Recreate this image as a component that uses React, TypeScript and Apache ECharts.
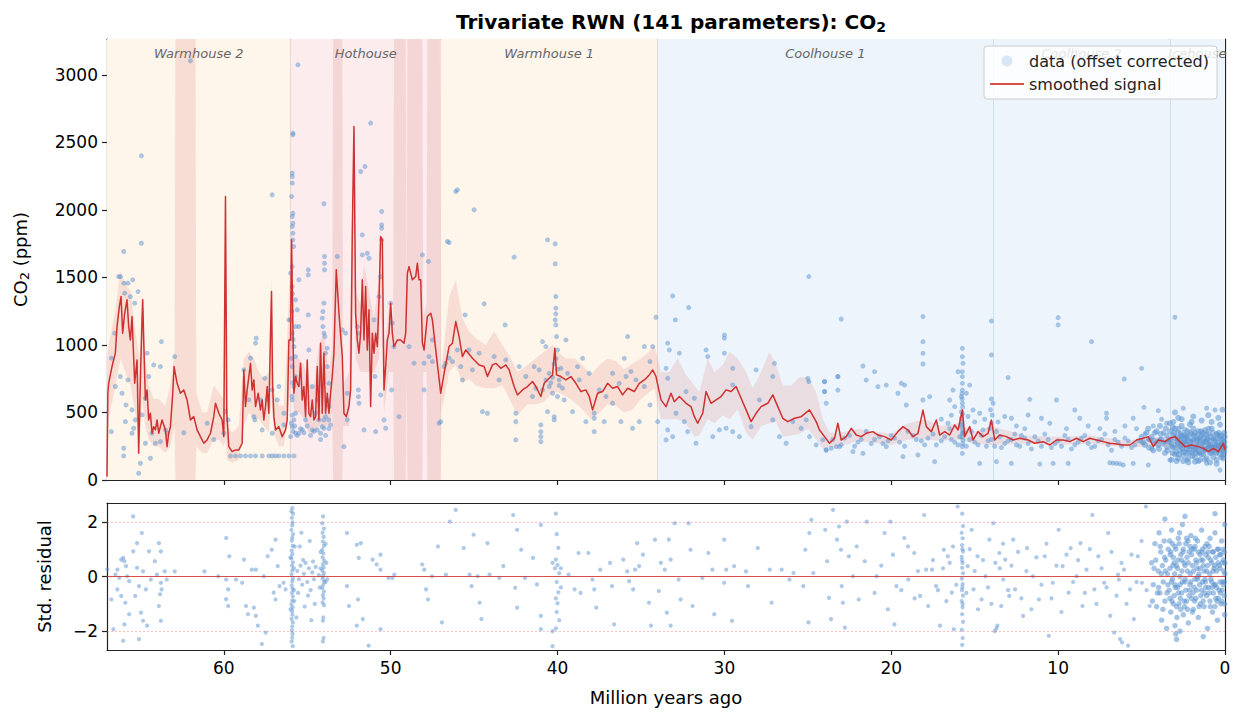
import React, { useEffect, useRef } from "react";
import * as echarts from "echarts";

const X_MAX = 67;
const Y_MAX = 3265;
const R_LIM = 2.69;

const xTicks = [0, 10, 20, 30, 40, 50, 60];
const yTicks = [0, 500, 1000, 1500, 2000, 2500, 3000];
const rTicks = [-2, 0, 2];

const regions = [
  { name: "Warmhouse 2", from: 67, to: 56, color: "#fef5eb" },
  { name: "Hothouse", from: 56, to: 47, color: "#fcecee" },
  { name: "Warmhouse 1", from: 47, to: 34, color: "#fef5eb" },
  { name: "Coolhouse 1", from: 34, to: 13.9, color: "#edf4fc" },
  { name: "Coolhouse 2", from: 13.9, to: 3.3, color: "#edf4fc" },
  { name: "Icehouse", from: 3.3, to: 0, color: "#edf4fc" },
];

// smoothed signal [age (Ma), CO2 ppm]
const smoothed: number[][] = [
  [67.0,25],[66.95,642],[66.9,716],[66.7,840],[66.5,939],[66.4,1136],[66.26,1284],[66.16,1358],[66.06,1087],[65.94,1235],[65.8,1334],[65.7,1136],[65.6,1037],[65.5,1210],[65.34,716],[65.2,889],[65.1,198],[65.0,741],[64.9,1185],[64.86,1334],[64.8,1037],[64.7,593],[64.6,667],[64.5,445],[64.4,494],[64.3,346],[64.2,395],[64.1,371],[64.0,445],[63.9,346],[63.7,445],[63.5,371],[63.4,247],[63.3,346],[63.2,395],[63.06,642],[62.98,840],[62.8,716],[62.6,642],[62.4,667],[62.2,593],[62.0,445],[61.8,469],[61.6,371],[61.4,321],[61.2,272],[61.0,297],[60.8,346],[60.6,469],[60.5,568],[60.3,494],[60.1,445],[60.0,321],[59.9,2099],[59.82,494],[59.7,247],[59.5,210],[59.3,223],[59.1,223],[58.9,272],[58.8,815],[58.7,544],[58.6,667],[58.5,766],[58.4,864],[58.3,667],[58.2,741],[58.1,544],[57.94,642],[57.8,519],[57.7,593],[57.6,445],[57.5,544],[57.4,692],[57.3,494],[57.2,1087],[57.14,1395],[57.08,716],[57.0,469],[56.9,371],[56.7,395],[56.5,321],[56.3,371],[56.2,445],[56.1,1037],[56.0,1037],[55.94,1778],[55.86,1136],[55.8,642],[55.7,766],[55.6,716],[55.5,692],[55.4,864],[55.3,593],[55.2,692],[55.1,469],[55.0,889],[54.9,494],[54.8,469],[54.7,593],[54.6,445],[54.5,469],[54.4,840],[54.3,445],[54.2,1013],[54.1,494],[54.0,939],[53.9,494],[53.8,642],[53.7,494],[53.6,642],[53.5,766],[53.4,939],[53.26,1556],[53.1,1235],[52.9,914],[52.8,494],[52.66,469],[52.5,544],[52.4,667],[52.3,1827],[52.2,2617],[52.1,1235],[52.0,1037],[51.9,939],[51.8,1087],[51.7,1482],[51.6,1037],[51.5,1432],[51.4,963],[51.3,1260],[51.2,544],[51.1,1087],[51.0,939],[50.9,1087],[50.8,988],[50.7,1334],[50.6,1803],[50.5,1778],[50.4,667],[50.3,840],[50.2,1037],[50.1,1087],[50.0,1309],[49.9,1087],[49.8,988],[49.6,1037],[49.4,1037],[49.2,1013],[49.1,1087],[49.0,1531],[48.9,1580],[48.7,1482],[48.5,1506],[48.4,1605],[48.3,1482],[48.2,1482],[48.1,1013],[48.0,963],[47.8,1210],[47.6,1235],[47.5,1185],[47.3,963],[47.0,642],
  [46.8,790],[46.5,988],[46.3,1013],[46.1,1173],[45.9,1062],[45.7,914],[45.5,963],[45.1,901],[44.7,852],[44.4,840],[44.2,766],[43.9,852],[43.7,864],[43.4,827],[43.1,852],[42.9,815],[42.6,692],[42.4,630],[42.1,667],[41.8,692],[41.5,729],[41.3,692],[41.0,618],[40.8,716],[40.5,753],[40.3,778],[40.16,976],[40.06,778],[39.8,766],[39.5,741],[39.2,766],[38.9,716],[38.6,655],[38.3,667],[38.1,618],[37.9,519],[37.6,642],[37.3,655],[37.0,716],[36.7,679],[36.4,692],[36.1,630],[35.8,679],[35.4,655],[35.1,716],[34.8,741],[34.5,778],[34.3,815],[34.1,766],[33.8,593],[33.5,543],[33.2,642],[33.0,580],[32.7,618],[32.3,568],[32.0,543],[31.8,469],[31.6,420],[31.3,494],[31.1,655],[30.8,568],[30.5,593],[30.2,618],[29.9,667],[29.6,655],[29.3,692],[29.0,605],[28.7,519],[28.4,432],[28.1,494],[27.8,543],[27.4,568],[27.1,630],[26.8,543],[26.5,457],[26.2,432],[25.8,457],[25.4,469],[24.9,519],[24.5,432],
  [24.3,370],[24.0,321],[23.7,272],[23.4,309],[23.2,420],[23.0,296],[22.7,321],[22.4,383],[22.1,333],[21.8,321],[21.5,346],[21.1,358],[20.8,333],[20.4,321],[20.0,296],[19.6,358],[19.3,395],[19.0,370],[18.7,321],[18.4,346],[18.1,518],[17.9,395],[17.6,358],[17.3,444],[17.1,333],[16.8,358],[16.5,333],[16.2,407],[16.0,370],[15.74,518],[15.6,321],[15.3,395],[15.1,296],[14.8,358],[14.5,321],[14.2,346],[14.0,444],[13.8,296],[13.5,333],[13.1,321],[12.7,296],[12.3,309],[11.8,296],[11.4,272],[10.9,284],[10.5,259],[10.1,296],[9.7,296],[9.3,284],[8.9,309],[8.5,284],[8.1,309],[7.7,296],[7.3,284],[6.9,272],[6.5,266],[6.1,259],[5.7,259],[5.3,296],[4.9,309],[4.6,321],[4.3,247],[4.0,296],[3.6,284],[3.3,309],[3.0,321],[2.7,284],[2.4,247],[2.0,259],[1.6,247],[1.3,234],[1.0,210],[0.7,234],[0.4,210],[0.1,272],[0.0,222],
];

// uncertainty envelope [age, lower, upper]; upper above the axis means off-scale
const envelope: number[][] = [
  [67.0,0,900],[66.9,450,1000],[66.5,700,1250],[66.2,900,1550],[65.9,800,1450],[65.6,700,1400],[65.3,500,1100],[65.05,300,900],[64.9,600,1400],[64.7,400,900],[64.5,300,700],[64.2,250,600],[63.9,250,600],[63.5,200,550],[63.2,250,700],[62.95,400,950],[62.9,0,3300],[61.7,0,3300],[61.65,250,650],[61.3,200,500],[61.0,200,500],[60.6,300,700],[60.3,300,650],[60.0,250,600],[59.9,300,2200],[59.8,150,400],[59.5,130,350],[59.1,150,400],[58.8,400,900],[58.5,500,950],[58.2,450,900],[57.9,450,800],[57.6,400,750],[57.3,350,800],[57.15,600,1500],[57.0,350,650],[56.7,250,550],[56.4,250,550],[56.15,500,1200],[55.95,800,1900],[55.8,500,900],[55.5,500,900],[55.2,450,850],[54.9,350,700],[54.6,350,700],[54.3,400,1000],[54.0,400,1100],[53.7,400,800],[53.5,500,1000],[53.45,0,3300],[52.9,0,3300],[52.85,400,700],[52.5,400,800],[52.3,1000,2000],[52.2,1500,2700],[52.1,900,1400],[51.8,800,1300],[51.6,800,1600],[51.3,800,1400],[51.0,800,1200],[50.7,900,1500],[50.6,1300,1900],[50.4,500,900],[50.1,800,1300],[49.85,800,1200],[49.8,0,3300],[49.1,0,3300],[49.05,800,1300],[49.0,0,3300],[48.1,0,3300],[48.05,800,1200],[47.85,800,1300],[47.8,0,3300],[47.05,0,3300],[47.0,500,800],
  [46.8,600,1000],[46.5,800,1350],[46.1,850,1480],[45.7,720,1200],[45.3,750,1100],[44.9,700,1050],[44.3,680,1000],[43.8,680,1100],[43.3,700,1000],[42.8,580,900],[42.4,480,800],[41.8,560,850],[41.3,560,900],[40.8,580,950],[40.3,650,1000],[40.0,650,950],[39.5,620,900],[39.0,580,900],[38.5,520,850],[38.0,450,780],[37.5,500,850],[37.0,560,900],[36.5,550,880],[36.0,500,820],[35.5,520,860],[35.0,600,900],[34.5,650,950],[34.2,680,1000],[33.8,450,800],[33.3,450,800],[32.8,450,900],[32.3,420,780],[31.8,320,700],[31.5,330,650],[31.0,450,900],[30.6,420,800],[30.1,480,850],[29.7,450,950],[29.2,520,900],[28.7,350,800],[28.3,300,680],[27.8,400,800],[27.3,420,950],[26.9,430,850],[26.5,320,700],[26.0,330,700],[25.5,340,760],[25.0,380,760],[24.5,300,650],[24.1,230,450],[23.7,240,350],[23.0,250,350],[22.0,290,380],[20.0,260,340],[19.0,300,420],[18.0,300,450],[17.0,290,400],[16.0,300,420],[15.0,270,360],[14.0,260,400],[12.0,270,330],[10.0,260,320],[8.0,270,330],[6.0,240,290],[4.0,250,320],[2.0,230,280],[0.0,190,260],
];

// proxy data (offset corrected) [age, CO2]
const proxyEarly: number[][] = [
  [64.94,2400],[66.0,1692],[66.3,1506],[66.2,1506],[65.98,1457],[65.74,1457],[65.46,1482],[65.14,1395],[65.94,1383],[65.6,1358],[65.34,1309],[66.54,1087],[66.74,902],[64.94,1753],[64.6,939],[63.74,1025],[62.94,914],[64.2,852],[63.8,840],[64.5,766],[64.7,605],[64.9,482],[65.4,383],[65.5,346],[65.9,432],[66.0,235],[66.0,178],[66.74,358],[65.1,50],[65.0,124],[64.4,161],[64.3,346],[64.1,272],[63.8,284],[63.5,371],[63.4,346],[64.7,272],[66.2,766],[66.1,642],[66.5,692],[65.74,741],[65.86,556],[65.5,519],[65.3,445],[58.8,815],[58.4,902],[58.06,1050],[58.1,1013],[57.54,753],[57.1,2111],[57.1,667],[57.8,593],[57.4,593],[56.7,692],[56.8,593],[56.4,494],[57.7,371],[57.1,346],[56.4,408],
  [59.6,178],[59.3,178],[59.0,178],[58.7,178],[58.4,178],[58.1,178],[57.7,178],[57.3,178],[57.1,178],[56.9,178],[56.7,178],[56.4,178],[56.1,178],[55.8,178],
  [58.5,593],[58.2,469],[58.14,445],[59.9,507],[59.74,445],[60.0,346],[62.0,3104],[55.56,3074],[61.0,420],[60.6,300],[62.4,350],
];

const proxyHot: number[][] = [
  [55.86,2568],[55.86,2556],[55.9,2272],[55.9,2247],[55.9,2198],[55.94,2099],[55.86,1975],[55.9,1951],[55.86,1901],[55.9,1877],[55.86,1827],[55.86,1778],[55.82,1729],[55.9,1580],[56.0,1531],[55.9,1432],[55.7,1334],[55.6,1260],[56.0,1185],[56.1,1185],[55.7,1136],[55.9,1087],[55.8,988],[55.7,914],[55.9,840],[55.7,766],[55.8,692],[55.9,593],[55.7,494],[55.8,445],[55.9,395],[55.7,346],[56.0,321],[55.5,346],[55.3,371],[55.1,445],[55.5,1482],[54.94,1556],[54.94,1519],[55.5,1136],[54.94,1222],[54.9,963],[54.7,692],[54.4,593],[54.5,494],[54.3,445],[54.7,371],[54.4,371],[54.1,395],[54.0,445],[54.2,346],
  [55.95,420],[55.85,360],[55.75,400],[55.6,330],[55.4,380],[55.2,350],[55.0,400],[54.8,330],[54.6,360],[54.2,300],[53.9,330],[53.7,380],[55.9,480],[55.92,620],[55.88,720],[55.95,900],[55.85,1040],[55.92,1250],[55.88,1380],
  [53.96,1655],[53.96,1605],[53.96,1556],[54.0,1309],[54.06,1247],[54.1,1198],[54.06,1136],[54.0,1087],[53.94,1062],[53.8,976],[53.9,939],[53.8,840],[53.7,716],[53.8,593],[53.7,544],[53.9,469],[53.7,445],[53.6,408],[54.0,383],
  [54.0,2045],[53.2,1655],[52.9,1111],[52.7,1087],[52.6,642],[52.6,445],[52.8,247],[52.0,1136],[51.94,1087],[51.94,667],[51.94,617],[51.9,568],[51.7,1815],[51.7,1667],[51.54,2321],[51.8,2284],[51.2,2642],[51.6,371],[51.4,1679],[51.3,1642],[51.0,1185],[50.94,766],[50.54,1988],[50.54,1889],[50.54,1864],[50.54,1778],[50.7,1358],[50.6,1506],[50.6,630],[50.9,358],[50.4,445],[50.3,383],[50.0,1309],[49.9,1161],[49.8,988],[49.94,667],[49.5,469],[48.9,988],[48.1,1667],[47.74,1618],[47.5,1037],[47.5,877],[48.0,667],[47.0,432],[46.6,1766],[46.1,2136],[46.7,865],[46.5,902],[47.7,914],[48.0,865],[48.6,865],
];

const proxyWarm1: number[][] = [
  [46.5,1758],[40.14,1748],[40.14,1600],[42.6,1650],[40.1,1358],[40.1,1272],[40.1,1230],[40.14,1185],[40.1,1148],[40.06,1062],[44.4,1304],[43.14,1148],[45.54,1222],[46.3,877],[45.7,741],[44.5,506],[44.2,494],[42.5,494],[42.5,432],[42.5,297],[41.0,408],[41.0,358],[41.0,321],[41.0,284],[40.6,506],[40.2,445],[40.2,469],[40.5,692],[40.3,642],[40.0,618],[39.9,741],[39.6,593],[39.4,790],[40.9,1025],[40.7,988],[40.0,963],[39.5,1037],[41.1,815],[41.4,840],[40.7,741],[40.5,790],[40.9,667],[41.3,679],[39.8,827],[39.1,506],[38.8,840],[38.5,901],[38.1,790],[37.8,494],[37.8,358],[37.8,457],[38.3,432],[37.2,432],[36.7,568],[36.2,432],[36.0,901],[35.8,1062],[35.6,803],[35.5,383],[35.1,432],[34.8,988],[34.46,877],[34.46,556],[34.3,988],[34.1,1205],[44.7,939],[43.8,914],[43.1,889],[42.3,840],[41.9,766],[41.5,618],[43.5,741],[45.1,815],[45.3,963],[37.1,618],[36.7,790],[36.3,716],[35.9,766],[35.3,741],[34.8,692],[37.5,667],[38.7,741],[47.1,420],[45.8,840],[46.8,840],[46.0,963],[46.0,2148],[45.0,2000],[40.6,1778],
  [40.2,860],[40.0,820],[39.9,700],[40.3,760],[40.1,900],[40.4,720],[39.7,680],
];

const proxyCool: number[][] = [
  [33.1,1363],[32.94,1185],[32.14,1277],[24.94,1506],[33.4,1013],[33.3,963],[32.7,939],[33.5,827],[33.4,753],[32.3,655],[31.8,605],[31.1,963],[31.0,914],[30.0,1074],[30.0,1050],[30.0,939],[29.5,827],[29.5,704],[28.1,815],[27.0,864],[27.1,766],[25.0,753],[24.94,729],[24.0,729],[23.2,766],[24.0,655],[23.9,568],[25.1,445],[24.9,321],[25.4,383],[27.9,593],[28.4,395],[29.1,321],[29.5,358],[29.9,383],[30.3,371],[30.7,321],[31.7,272],[32.2,358],[33.1,321],[33.4,371],[33.5,297],[32.9,494],[32.4,432],[34.0,432],[27.1,445],[26.7,321],[26.3,272],[25.9,432],[24.1,297],[23.9,222],[23.6,235],[23.3,247],[24.5,260],
  [23.0,1192],[18.1,1210],[18.1,1024],[18.1,938],[18.1,859],[14.0,1177],[14.0,926],[10.0,1202],[10.0,1148],[8.0,1024],[3.0,1205],[21.7,844],[21.0,802],[21.5,740],[23.2,666],[23.2,765],[24.0,728],[24.0,654],[20.8,691],[20.3,703],[19.4,716],[19.2,703],[19.6,642],[19.1,555],[18.1,592],[17.7,617],
  [15.74,975],[15.74,913],[15.7,864],[15.74,802],[15.74,765],[15.74,716],[15.74,666],[15.8,617],[15.74,568],[15.8,506],[15.8,457],[15.8,395],[15.74,346],[15.7,296],[15.74,247],[15.74,197],[15.76,640],[15.72,540],[15.76,430],[15.72,370],[15.76,320],[15.72,270],[15.75,600],[15.73,490],[15.77,410],[15.71,350],
  [16.0,802],[15.5,642],[15.3,703],[16.3,666],[16.5,592],[16.2,543],[15.1,518],[14.7,494],[13.9,568],[13.0,758],[11.7,597],[10.1,592],[9.0,518],[7.1,494],[6.04,748],[5.0,827],[4.86,538],[4.0,513],[2.5,531],[1.1,531],[0.6,518],[11.0,457],[8.7,457],[7.1,457],[5.5,457],[11.8,481],[12.8,457],[10.5,420],
  [13.7,136],[14.7,123],[17.4,136],[12.8,123],[11.1,118],[10.3,123],[9.4,123],[6.9,128],[6.7,125],[6.5,123],[6.3,120],[6.1,111],[5.5,123],[4.6,111],[3.3,148],[2.3,148],[1.1,123],[0.3,74],[22.3,210],[21.7,197],[20.3,247],[19.3,173],[18.4,185],[23.1,247],[23.9,222],
  [14.0,600],[14.05,520],[13.95,480],[14.0,420],[14.1,380],
  [17.0,450],[16.6,420],[16.4,480],[15.4,470],[15.0,430],[14.4,450],[13.6,430],[13.2,470],[12.5,400],[12.0,380],[9.5,380],[8.2,400],[7.5,380],[6.6,360],[6.0,400],[5.3,380],[4.3,400],[3.8,450],[3.5,420],
  [23.5,300],[23.0,260],[22.5,330],[22.0,280],[21.5,360],[21.0,300],[20.5,270],[20.0,330],[19.5,280],[19.0,360],[18.5,300],[18.0,260],[17.5,340],[17.0,290],[16.5,380],[16.2,280],[15.9,320],[15.5,250],[15.2,360],[15.0,280],[14.6,330],[14.3,250],[14.0,300],[13.7,360],[13.4,240],[13.0,290],[12.6,340],[12.3,250],[12.0,310],[11.6,230],[11.2,290],[10.8,340],[10.4,240],[10.0,290],[9.6,330],[9.2,230],[8.8,280],[8.4,330],[8.0,240],[7.6,290],[7.2,340],[6.8,220],[6.4,280],[6.0,310],[5.6,240],[5.2,290],[4.8,340],[4.4,230],[4.0,290],[3.7,350],[3.5,240],
  [22.8,310],[22.2,250],[21.8,300],[21.2,270],[20.7,320],[20.2,290],[19.8,310],[19.2,250],[18.7,330],[18.2,290],[17.8,310],[17.3,260],[16.8,320],[16.4,300],[16.0,260],[15.6,350],[15.3,300],[14.8,260],[14.5,370],[14.2,290],[13.8,250],[13.5,320],[13.2,270],[12.8,300],[12.5,260],[12.2,330],[11.8,270],[11.4,320],[11.0,250],[10.6,300],[10.2,270],[9.8,250],[9.4,300],[9.0,260],[8.6,310],[8.2,270],[7.8,250],[7.4,300],[7.0,260],[6.6,300],[6.2,250],[5.8,290],[5.4,260],[5.0,280],[4.6,300],[4.2,270],[3.9,300],[3.6,280],
];

const proxyIce: number[][] = [
  [5.0,320],[4.8,260],[4.6,380],[4.5,300],[4.3,220],[4.2,350],[4.0,260],[3.9,400],[3.8,300],[3.6,200],[3.5,330],[3.4,280],
  [4.9,280],[4.7,350],[4.55,240],[4.4,320],[4.25,290],[4.1,360],[3.95,230],[3.85,340],[3.7,270],[3.55,380],[3.45,220],[3.38,300],
  [3.3,420],[3.2,250],[3.1,330],[3.0,190],[3.0,380],[2.9,280],[2.8,350],[2.8,160],[2.7,300],[2.7,220],[2.6,400],[2.6,260],[2.5,330],[2.5,180],[2.4,280],[2.4,370],[2.3,230],[2.3,320],[2.2,160],[2.2,290],[2.1,410],[2.1,250],[2.0,340],[2.0,200],[1.9,290],[1.9,380],[1.8,230],[1.8,170],[1.7,320],[1.7,260],[1.6,360],[1.6,210],[1.5,290],[1.5,150],[1.4,330],[1.4,240],[1.3,190],[1.3,280],[1.2,370],[1.2,220],[1.1,300],[1.1,160],[1.0,260],[1.0,340],[0.9,200],[0.9,290],[0.8,380],[0.8,240],[0.7,170],[0.7,310],[0.6,260],[0.6,210],[0.5,340],[0.5,150],[0.4,280],[0.4,230],[0.3,190],[0.3,320],[0.2,260],[0.2,170],[0.1,300],[0.1,220],[0.05,250],[0.05,350],
  [3.25,300],[3.15,200],[3.05,350],[2.95,240],[2.85,310],[2.75,190],[2.65,340],[2.55,230],[2.45,300],[2.35,200],[2.25,360],[2.15,230],[2.05,280],[1.95,180],[1.85,330],[1.75,240],[1.65,290],[1.55,200],[1.45,360],[1.35,270],[1.25,310],[1.15,230],[1.05,300],[0.95,250],[0.85,320],[0.75,220],[0.65,290],[0.55,250],[0.45,330],[0.35,220],[0.25,300],[0.15,240],[0.08,190],[0.03,280],[3.1,430],[2.6,450],[2.0,430],[1.4,440],[0.8,430],[0.3,410],[2.9,140],[2.2,130],[1.6,140],[0.9,130],
  [3.28,360],[3.22,270],[3.12,390],[3.08,240],[2.98,310],[2.92,200],[2.82,270],[2.78,380],[2.68,250],[2.62,320],[2.52,280],[2.48,210],[2.38,330],[2.32,260],[2.22,310],[2.18,200],[2.08,350],[2.02,250],[1.92,300],[1.88,220],[1.78,350],[1.72,200],[1.62,300],[1.58,250],[1.48,320],[1.42,190],[1.32,350],[1.28,230],[1.18,280],[1.12,340],[1.02,230],[0.98,380],[0.88,260],[0.82,200],[0.72,350],[0.68,240],[0.58,300],[0.52,200],[0.42,260],[0.38,350],[0.28,250],[0.22,330],[0.12,270],[0.06,210],[0.02,320],[0.02,240],[3.2,150],[2.5,140],[1.8,135],[1.2,150],[0.5,120],[0.1,160],[2.8,460],[1.9,470],[1.0,480],[0.4,460],[3.0,500],[0.15,520],
];

// standardized residuals [age, residual]
const residEarly: number[][] = [
  [66.98,0.26],[66.74,-0.84],[66.38,0.25],[66.26,-0.05],[66.15,0.62],[66.03,0.68],[65.96,0.56],[65.86,0.38],[65.79,0.01],[65.67,-0.17],[66.38,-0.47],[66.15,-0.71],[65.9,-0.96],[65.67,-1.38],[65.96,-1.75],[66.03,-2.35],[65.43,2.2],[65.43,0.92],[65.2,1.22],[64.91,1.59],[65.08,-0.35],[64.96,-1.32],[64.84,-1.62],[64.6,-1.8],[65.08,-2.29],[64.48,0.92],[64.13,0.56],[63.89,1.22],[63.77,0.92],[64.01,0.07],[63.77,-0.23],[63.73,-0.47],[63.82,-0.65],[63.89,-1.08],[63.77,-1.62],[63.54,0.19],[63.42,-0.11],[62.94,0.19],[66.62,-1.93],[65.31,-0.71],[64.37,-0.11],[64.67,-0.47],[66.5,0.07],[65.2,0.32],[64.84,0.19],
  [61.16,0.19],[60.33,0.01],[59.86,1.41],[59.67,0.74],[59.86,-0.11],[59.74,-0.47],[59.86,-0.83],[59.74,-1.08],[58.79,0.62],[58.67,-1.08],[58.55,-1.38],[58.2,-1.14],[58.08,-1.44],[57.96,-1.8],[57.72,-2.47],[57.49,-2.05],[58.08,0.25],[57.6,0.01],[57.37,0.74],[57.13,0.98],[56.9,1.35],[56.77,0.38],[56.66,-0.35],[57.01,-0.59],[56.9,-0.84],[56.42,-0.23],[56.3,-0.47],[58.32,0.25],[58.9,-0.23],[59.27,-0.11],
];

const residHot: number[][] = [
  [55.9,2.5],[55.95,2.38],[55.85,2.3],[55.92,2.15],[55.88,1.98],[55.9,1.87],[55.95,1.7],[55.85,1.55],[55.9,1.42],[55.92,1.31],[55.87,1.12],[55.93,0.95],[55.89,0.82],[55.95,0.66],[55.86,0.52],[55.91,0.4],[55.9,0.22],[55.94,0.08],[55.86,-0.07],[55.9,-0.18],[55.93,-0.33],[55.88,-0.45],[55.92,-0.6],[55.86,-0.73],[55.9,-0.88],[55.95,-1.02],[55.87,-1.13],[55.91,-1.27],[55.89,-1.4],[55.94,-1.55],[55.86,-1.68],[55.9,-1.83],[55.92,-1.97],[55.88,-2.1],[55.9,-2.24],[55.93,-2.38],[55.87,-2.55],[55.8,0.3],[55.8,-0.5],[56.0,0.7],[56.0,-1.2],[55.75,1.1],[55.78,-0.9],
  [55.6,0.2],[55.5,-0.1],[55.4,0.4],[55.3,-0.3],[55.2,0.1],[55.1,0.5],[55.0,-0.2],[54.9,0.3],[54.8,-0.5],[54.7,0.15],[54.6,-0.1],[54.5,0.35],[55.55,-0.6],[55.25,0.6],[54.95,-0.7],[54.65,0.55],[55.45,1.1],[55.15,-1.1],[54.85,1.3],[54.55,-1.0],[55.65,-1.5],[55.35,1.6],[54.75,-1.6],
  [54.05,2.2],[54.1,1.95],[54.0,1.75],[54.08,1.6],[54.02,1.45],[54.06,1.28],[54.0,1.12],[54.1,0.98],[54.04,0.85],[54.08,0.7],[53.98,0.58],[54.06,0.45],[54.02,0.33],[54.1,0.22],[54.0,0.12],[54.05,0.02],[54.08,-0.08],[53.98,-0.18],[54.04,-0.3],[54.1,-0.42],[54.0,-0.55],[54.06,-0.68],[54.02,-0.8],[54.08,-0.95],[54.0,-1.05],[54.04,-1.5],[54.06,-1.62],[54.02,-2.25],[54.06,-2.38],[54.2,0.3],[53.9,-0.2],[54.25,-0.4],[53.85,0.5],[54.2,0.9],[53.9,1.2],[54.3,0.05],[53.8,-0.1],
  [52.62,1.59],[52.03,1.16],[51.79,1.22],[51.91,0.68],[52.62,-0.35],[52.5,-1.08],[51.96,-0.84],[52.03,-1.8],[51.67,-1.56],[51.32,-2.53],[51.08,0.62],[50.84,0.44],[50.61,0.25],[50.61,0.8],[50.61,-1.93],[50.13,-0.05],[49.89,-0.05],[49.78,0.07],[48.11,0.44],[47.99,0.25],[47.88,-0.47],[47.76,-0.84],[47.52,0.01],[47.17,1.1],
];

const residMid: number[][] = [
  [46.93,-1.68],[46.69,0.07],[46.1,2.44],[46.45,2.01],[45.62,1.04],[45.03,1.53],[45.15,-0.35],[45.27,0.07],[44.79,0.01],[44.67,-0.96],[44.56,-1.56],[44.2,1.22],[44.08,0.07],[43.49,-0.05],[43.25,0.38],[42.66,2.25],[42.54,-0.41],[42.42,-1.14],[42.42,1.71],[42.18,0.98],[41.95,-0.05],[41.47,0.68],[41.23,-0.29],[41.0,1.89],[41.0,-1.44],[41.0,-1.93],
  [40.1,2.3],[40.05,1.55],[39.95,1.05],[40.1,0.62],[40.0,0.42],[40.15,0.3],[39.9,0.12],[40.05,-0.2],[39.95,-0.58],[40.1,-0.8],[40.0,-0.98],[40.05,-1.3],[39.9,-1.6],[40.1,-1.9],[40.3,-2.0],[40.3,-2.55],[40.3,0.5],[39.8,0.3],[39.8,-0.4],
  [39.34,0.07],[38.98,-0.47],[38.74,0.86],[38.62,-0.6],[38.15,0.86],[37.91,-0.11],[37.8,-0.47],[37.68,-1.14],[37.44,0.25],[36.85,0.5],[36.73,-0.35],[36.61,-1.75],
  [36.06,0.62],[35.83,0.19],[35.71,-0.17],[35.47,-0.47],[35.35,0.25],[35.23,1.22],[35.11,0.38],[34.88,0.8],[34.52,-0.96],[34.4,-1.8],[34.16,1.35],[33.93,-0.53],[33.81,0.5],[33.57,0.25],[33.45,-1.32],[33.33,1.35],[33.22,0.62],[33.22,-1.8],[32.98,1.95],[32.74,-0.11],[32.62,-0.84],[32.15,1.95],[32.03,0.98],[31.91,-1.08],[31.32,-0.05],[30.96,0.86],[30.72,0.25],[30.61,-1.38],[30.01,1.35],[30.01,-0.23],[29.89,0.25],[29.54,-1.62],[29.42,0.38],[28.71,0.19],[28.59,-0.35],[28.0,1.04],[27.28,0.25],[27.17,-0.96],[26.57,0.25],[26.1,-0.11],[25.86,0.13],[25.27,-0.35],[25.15,0.98],[24.96,-1.68],[24.91,1.59],[24.79,2.07],[24.67,0.13],
  [23.96,1.71],[23.84,0.56],[23.73,-0.78],[23.61,-1.56],[23.49,2.44],[23.25,1.35],[23.13,1.83],[23.01,0.98],[22.97,-0.35],[22.9,-0.96],[22.78,-1.87],[22.66,2.01],[22.54,0.74],[22.3,0.01],[22.07,1.1],[21.95,-0.84],[21.59,0.56],[21.47,2.01],[20.88,0.01],[20.4,1.59],[20.05,2.01],[19.81,-1.75],[19.69,-0.35],[19.22,1.41],[18.98,-0.11],[18.62,0.86],[18.27,-0.71],[18.03,2.25],[17.91,0.25],[17.79,-1.08],[17.56,0.25],[17.32,-0.35],[17.08,-1.8],[16.85,0.98],[16.61,0.74],[16.37,-0.59],[16.25,-1.93],[16.02,2.56],
  [21.0,-0.6],[20.6,0.4],[20.2,-1.2],[19.9,0.8],[19.4,-0.5],[19.0,1.1],[18.6,-0.8],[18.4,0.2],
];

const residLate: number[][] = [
  [15.75,2.3],[15.7,1.85],[15.78,1.6],[15.72,1.4],[15.76,1.15],[15.7,0.92],[15.78,0.72],[15.73,0.5],[15.75,0.32],[15.7,0.12],[15.77,-0.08],[15.72,-0.28],[15.76,-0.5],[15.7,-0.7],[15.78,-0.9],[15.73,-1.12],[15.75,-1.38],[15.7,-1.66],[15.77,-1.95],[15.72,-2.25],[15.75,-2.5],[15.74,1.0],[15.74,-0.4],[15.76,0.6],[15.72,-1.0],
  [15.42,0.38],[15.18,1.71],[15.07,-0.47],[14.83,0.74],[14.59,-0.84],[14.35,0.01],[14.12,1.35],[13.88,1.95],[13.76,0.5],[13.64,-1.8],[13.52,0.86],[13.41,-1.08],[13.29,-0.11],[13.17,0.62],[12.93,-0.71],[12.69,1.35],[12.58,-0.47],[12.1,-1.44],[11.86,1.04],[11.51,0.01],[11.15,-0.84],[10.8,0.74],[10.56,-2.17],[10.32,-0.23],[9.97,1.71],[9.73,0.38],[9.37,-0.59],[9.25,1.04],[8.9,0.01],[8.66,1.22],[8.54,-1.08],[8.3,0.25],[7.95,2.25],[7.83,-0.47],[7.59,0.74],[7.24,-0.23],[7.0,1.59],[6.88,-1.44],[6.64,-2.05],[6.41,0.07],[6.36,-0.11],[6.29,-2.29],[6.17,-2.41],[6.05,0.25],[5.81,-2.53],[5.69,-0.47],[5.46,-1.56],[5.22,0.74],[4.98,-0.23],[4.74,2.56],[4.51,-1.08],
  [17.5,0.6],[17.2,-0.5],[16.9,0.3],[16.7,-0.9],[16.5,0.5],[16.3,1.1],[16.1,-0.3],[15.5,-0.6],[15.3,1.0],[15.0,0.2],[14.8,-1.2],[14.5,0.6],[14.2,-0.4],[14.0,-1.0],[13.8,-2.0],[13.7,-1.9],[13.5,0.3],[13.3,1.2],[13.0,-0.5],[12.8,0.4],[12.4,0.9],[12.2,-0.8],[11.9,0.2],[11.6,-1.2],[11.3,0.7],[11.0,-0.3],[10.7,1.2],[10.4,-0.8],[10.1,0.4],[9.8,-1.3],[9.5,0.8],[9.1,-0.2],[8.8,0.6],[8.4,-0.6],[8.1,1.0],[7.7,-1.0],[7.4,0.3],[7.1,-0.4],[6.8,0.9],[6.5,-0.7],[6.2,0.5],[5.9,-1.0],[5.6,0.8],[5.3,-0.2],[5.0,1.3],[4.7,-0.5],
];

const residIce: number[][] = [
  [4.4,0.5],[4.3,-0.3],[4.2,1.2],[4.1,-1.1],[4.0,0.2],[3.95,1.6],[3.9,-0.6],[3.85,0.9],[3.8,-1.6],[3.75,0.4],[3.7,-0.2],[3.65,1.3],[3.6,-0.9],[3.55,0.6],[3.5,-1.9],[3.45,0.1],[3.4,1.0],[3.35,-0.5],[3.3,0.3],[3.25,-1.3],[3.2,1.7],[3.15,-0.1],[3.1,0.7],[3.05,-0.7],[3.0,1.1],[2.95,-2.1],[2.9,0.4],[2.85,-0.4],[2.8,1.4],[2.75,-1.0],[2.7,0.0],[2.65,0.8],[2.6,-0.6],[2.55,1.9],[2.5,-1.4],[2.45,0.5],[2.4,-0.2],[2.35,1.2],[2.3,-0.9],[2.25,0.2],[2.2,-1.7],[2.15,0.9],[2.1,-0.3],[2.05,1.5],[2.0,-0.8],[1.95,0.4],[1.9,-1.2],[1.85,1.0],[1.8,-0.1],[1.75,0.6],[1.7,-0.5],[1.65,1.3],[1.6,-1.5],[1.55,0.1],[1.5,0.8],[1.45,-0.7],[1.4,1.7],[1.35,-0.2],[1.3,0.4],[1.25,-1.1],[1.2,1.1],[1.15,-0.4],[1.1,0.2],[1.05,-1.9],[1.0,0.7],[0.95,-0.6],[0.9,1.4],[0.85,-0.1],[0.8,0.5],[0.75,-1.3],[0.7,0.9],[0.65,-0.3],[0.6,1.6],[0.55,-0.8],[0.5,0.2],[0.45,-1.6],[0.4,1.0],[0.35,-0.5],[0.3,0.3],[0.25,-1.0],[0.2,1.3],[0.15,-0.2],[0.1,0.6],[0.05,-0.7],[0.02,1.9],[0.02,-1.4],
  [4.35,-0.9],[4.15,0.6],[3.98,-0.4],[3.82,0.1],[3.62,0.7],[3.48,-0.6],[3.32,1.3],[3.18,-0.9],[3.02,0.1],[2.88,-1.5],[2.72,1.6],[2.58,0.2],[2.42,-1.1],[2.28,0.7],[2.12,-0.5],[1.98,1.0],[1.82,-0.9],[1.68,0.3],[1.52,-0.3],[1.38,0.9],[1.22,-0.6],[1.08,1.2],[0.92,0.1],[0.78,-0.4],[0.62,0.4],[0.48,-0.9],[0.32,0.8],[0.18,-0.5],[0.08,0.2],[2.9,-2.3],[2.7,-2.0],[3.0,-1.8],[1.3,-2.2],[0.6,2.3],[2.4,2.2],[3.6,2.1],
  [4.25,0.3],[4.05,-0.6],[3.88,1.1],[3.72,-1.2],[3.58,0.2],[3.42,-0.3],[3.28,0.8],[3.12,0.4],[2.98,-0.4],[2.82,0.6],[2.68,-0.8],[2.52,0.9],[2.38,-0.1],[2.22,1.3],[2.08,0.1],[1.92,-0.6],[1.78,1.4],[1.62,0.0],[1.48,-1.0],[1.32,0.6],[1.18,-0.2],[1.02,0.9],[0.88,-1.1],[0.72,0.2],[0.58,-0.3],[0.42,0.5],[0.28,-0.6],[0.12,1.0],[0.04,-0.2],[0.01,0.5],
  [3.3,-0.8],[3.25,0.9],[3.2,-0.2],[3.15,1.2],[3.1,-1.0],[3.05,0.5],[3.0,-0.3],[2.95,1.0],[2.9,-1.1],[2.85,0.3],[2.8,-0.6],[2.75,1.2],[2.7,-0.3],[2.65,-1.2],[2.6,0.6],[2.55,-0.2],[2.5,1.0],[2.45,-0.9],[2.4,0.4],[2.35,-0.5],[2.3,1.4],[2.25,-1.2],[2.2,0.5],[2.15,-0.7],[2.1,1.1],[2.05,-0.2],[2.0,0.8],[1.95,-1.3],[1.9,0.2],[1.85,-0.4],[1.8,1.1],[1.75,-0.8],[1.7,0.5],[1.65,-0.1],[1.6,0.9],[1.55,-1.1],[1.5,0.3],[1.45,0.6],[1.4,-0.5],[1.35,1.0],[1.3,-0.9],[1.25,0.2],[1.2,-0.1],[1.15,0.8],[1.1,-0.7],[1.05,0.4],[1.0,-0.4],[0.95,1.1],[0.9,-0.9],[0.85,0.6],[0.8,-0.2],[0.75,0.9],[0.7,-0.6],[0.65,0.3],[0.6,-1.1],[0.55,0.7],[0.5,-0.4],[0.45,1.0],[0.4,-0.8],[0.35,0.4],[0.3,-0.2],[0.25,0.8],[0.2,-0.9],[0.15,0.5],[0.1,-0.3],[0.05,0.9],[0.03,-1.0],[0.01,0.1],
];

const FONT = "DejaVu Sans";
const BLUE = "#5b93cf";
const RED = "#cf3030";
const DATA_NAME = "data (offset corrected)";

const minusFmt = (v: number) => (v < 0 ? "\u2212" + Math.abs(v) : String(v));
const plainFmt = (v: number) => String(v);

function buildOption(): any {
  const proxy = [...proxyEarly, ...proxyHot, ...proxyWarm1, ...proxyCool];
  const resid = [...residEarly, ...residHot, ...residMid, ...residLate];

  const spineX = (gridIndex: number) => ({
    type: "value", gridIndex, min: 0, max: X_MAX, inverse: true, position: "top",
    axisLine: { show: true, onZero: false, lineStyle: { color: "#222", width: 1.2 } },
    axisTick: { show: false }, axisLabel: { show: false }, splitLine: { show: false },
  });
  const spineY = (gridIndex: number, min: number, max: number) => ({
    type: "value", gridIndex, min, max, position: "right",
    axisLine: { show: true, onZero: false, lineStyle: { color: "#222", width: 1.2 } },
    axisTick: { show: false }, axisLabel: { show: false }, splitLine: { show: false },
  });

  return {
    animation: false,
    backgroundColor: "#ffffff",
    textStyle: { fontFamily: FONT },
    title: {
      text: "Trivariate RWN (141 parameters): CO{s|2}",
      left: 666, top: 5, textAlign: "center",
      textStyle: {
        fontFamily: FONT, fontSize: 20, fontWeight: "bold", color: "#000",
        rich: { s: { fontFamily: FONT, fontSize: 14, fontWeight: "bold", color: "#000", padding: [10, 0, 0, 0] } },
      },
    },
    legend: {
      orient: "vertical", right: 22, top: 46,
      backgroundColor: "rgba(255,255,255,0.82)", borderColor: "#cccccc", borderWidth: 1, borderRadius: 3,
      padding: [7, 8, 7, 6], itemGap: 7, itemWidth: 34, itemHeight: 11,
      textStyle: { fontFamily: FONT, fontSize: 16, color: "#222" },
      data: [
        { name: DATA_NAME, icon: "circle", itemStyle: { color: "rgba(91,147,207,0.42)" } },
        { name: "smoothed signal", icon: "path://M0,0 L34,0 L34,2 L0,2 Z", itemStyle: { color: "rgba(207,48,48,0.85)" } },
      ],
    },
    grid: [
      { left: 107, top: 39, width: 1118, height: 441 },
      { left: 107, top: 503, width: 1118, height: 147 },
    ],
    xAxis: [
      {
        type: "value", gridIndex: 0, min: 0, max: X_MAX, inverse: true,
        axisLine: { show: true, onZero: false, lineStyle: { color: "#222", width: 1.2 } },
        axisTick: { show: true, length: 5, customValues: xTicks, lineStyle: { color: "#222", width: 1.2 } },
        axisLabel: { show: false }, splitLine: { show: false },
      },
      spineX(0),
      {
        type: "value", gridIndex: 1, min: 0, max: X_MAX, inverse: true,
        name: "Million years ago", nameLocation: "middle", nameGap: 38,
        nameTextStyle: { fontFamily: FONT, fontSize: 18, color: "#000" },
        axisLine: { show: true, onZero: false, lineStyle: { color: "#222", width: 1.2 } },
        axisTick: { show: true, length: 5, customValues: xTicks, lineStyle: { color: "#222", width: 1.2 } },
        axisLabel: { show: true, customValues: xTicks, formatter: plainFmt, fontFamily: FONT, fontSize: 17, color: "#000", margin: 9 },
        splitLine: { show: false },
      },
      spineX(1),
    ],
    yAxis: [
      {
        type: "value", gridIndex: 0, min: 0, max: Y_MAX,
        name: "CO{s|2} (ppm)", nameLocation: "middle", nameGap: 76, nameRotate: 90,
        nameTextStyle: {
          fontFamily: FONT, fontSize: 18, color: "#000",
          rich: { s: { fontFamily: FONT, fontSize: 13, color: "#000", padding: [8, 0, 0, 0] } },
        },
        axisLine: { show: true, onZero: false, lineStyle: { color: "#222", width: 1.2 } },
        axisTick: { show: true, length: 5, customValues: yTicks, lineStyle: { color: "#222", width: 1.2 } },
        axisLabel: { show: true, customValues: yTicks, formatter: plainFmt, fontFamily: FONT, fontSize: 17, color: "#000", margin: 9 },
        splitLine: { show: false },
      },
      spineY(0, 0, Y_MAX),
      {
        type: "value", gridIndex: 1, min: -R_LIM, max: R_LIM,
        name: "Std. residual", nameLocation: "middle", nameGap: 54, nameRotate: 90,
        nameTextStyle: { fontFamily: FONT, fontSize: 18, color: "#000" },
        axisLine: { show: true, onZero: false, lineStyle: { color: "#222", width: 1.2 } },
        axisTick: { show: true, length: 5, customValues: rTicks, lineStyle: { color: "#222", width: 1.2 } },
        axisLabel: { show: true, customValues: rTicks, formatter: minusFmt, fontFamily: FONT, fontSize: 17, color: "#000", margin: 9 },
        splitLine: { show: false },
      },
      spineY(1, -R_LIM, R_LIM),
    ],
    series: [
      {
        type: "custom", name: "envelope", xAxisIndex: 0, yAxisIndex: 0, silent: true, z: 2,
        data: [[0, 0]],
        renderItem: (_params: any, api: any) => {
          const pts: number[][] = [];
          for (const e of envelope) pts.push(api.coord([e[0], Math.min(e[2], Y_MAX)]));
          for (let i = envelope.length - 1; i >= 0; i--) pts.push(api.coord([envelope[i][0], envelope[i][1]]));
          return { type: "polygon", shape: { points: pts }, style: { fill: "rgba(215,105,95,0.17)", stroke: "none" } };
        },
      },
      {
        type: "scatter", name: DATA_NAME, xAxisIndex: 0, yAxisIndex: 0, z: 3,
        data: proxy, symbolSize: 5,
        itemStyle: { color: BLUE, opacity: 0.5 },
        markArea: {
          silent: true, z: 1,
          label: { show: true, position: "insideTop", distance: 8, fontFamily: FONT, fontStyle: "italic", fontSize: 13, color: "#666" },
          data: regions.map((r) => [
            { name: r.name, xAxis: r.from, itemStyle: { color: r.color } },
            { xAxis: r.to },
          ]),
        },
        markLine: {
          silent: true, symbol: ["none", "none"], z: 1, label: { show: false },
          data: [
            { xAxis: 56, lineStyle: { color: "rgba(235,190,190,0.6)", width: 1, type: "solid" } },
            { xAxis: 47, lineStyle: { color: "rgba(240,200,190,0.5)", width: 1, type: "solid" } },
            { xAxis: 34, lineStyle: { color: "rgba(215,200,190,0.6)", width: 1, type: "solid" } },
            { xAxis: 13.9, lineStyle: { color: "rgba(190,215,235,0.7)", width: 1, type: "solid" } },
            { xAxis: 3.3, lineStyle: { color: "rgba(190,215,235,0.7)", width: 1, type: "solid" } },
          ],
        },
      },
      {
        type: "scatter", name: DATA_NAME, xAxisIndex: 0, yAxisIndex: 0, z: 3,
        data: proxyIce, symbolSize: 6,
        itemStyle: { color: BLUE, opacity: 0.55 },
      },
      {
        type: "line", name: "smoothed signal", xAxisIndex: 0, yAxisIndex: 0, z: 4,
        data: smoothed, symbol: "none", showSymbol: false,
        lineStyle: { color: RED, width: 1.5, join: "round" }, itemStyle: { color: RED },
      },
      {
        type: "scatter", name: "residuals", xAxisIndex: 2, yAxisIndex: 2, z: 3,
        data: resid, symbolSize: 4.2,
        itemStyle: { color: BLUE, opacity: 0.5 },
        markLine: {
          silent: true, symbol: ["none", "none"], z: 5, label: { show: false },
          data: [
            { yAxis: 0, lineStyle: { color: "#d03030", width: 1, type: "solid", opacity: 0.85 } },
            { yAxis: 2, lineStyle: { color: "rgba(230,80,80,0.6)", width: 0.6, type: [2, 2] } },
            { yAxis: -2, lineStyle: { color: "rgba(230,80,80,0.6)", width: 0.6, type: [2, 2] } },
          ],
        },
      },
      {
        type: "scatter", name: "residuals (icehouse)", xAxisIndex: 2, yAxisIndex: 2, z: 3,
        data: residIce, symbolSize: 5.5,
        itemStyle: { color: BLUE, opacity: 0.55 },
      },
    ],
  };
}

export default function App() {
  const ref = useRef<HTMLDivElement>(null);
  useEffect(() => {
    if (!ref.current) return;
    const chart = echarts.init(ref.current, null, { renderer: "svg" });
    chart.setOption(buildOption());
    return () => chart.dispose();
  }, []);
  return <div ref={ref} style={{ position: "fixed", left: 0, top: 0, width: 1239, height: 717 }} />;
}
